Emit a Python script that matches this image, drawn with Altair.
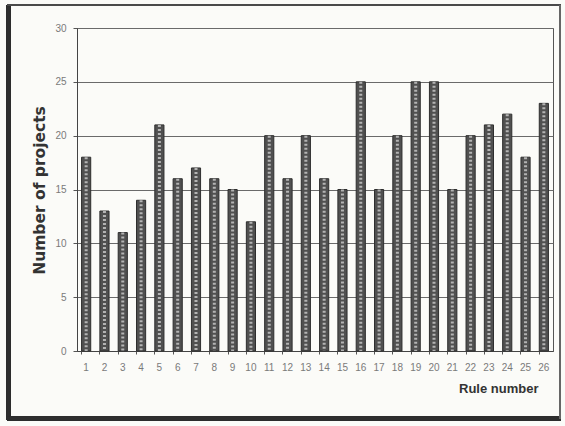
import altair as alt
import pandas as pd

# Number of projects that applied each rule
rules = [str(i) for i in range(1, 27)]
projects = [18, 13, 11, 14, 21, 16, 17, 16, 15, 12, 20, 16, 20,
            16, 15, 25, 15, 20, 25, 25, 15, 20, 21, 22, 18, 23]
y_ticks = [0, 5, 10, 15, 20, 25, 30]

df = pd.DataFrame({"rule": rules, "projects": projects})

PLOT_W, PLOT_H = 476, 323
label_font = "Liberation Sans"

x_enc = alt.X(
    "rule:O",
    sort=rules,
    scale=alt.Scale(paddingInner=0.5, paddingOuter=0.25),
    axis=alt.Axis(
        title="Rule number",
        titleFont=label_font,
        titleFontSize=13,
        titleFontWeight="bold",
        titleColor="#333333",
        titleAlign="right",
        titleBaseline="middle",
        titleX=461,
        titleY=37,
        labelAngle=0,
        labelFont=label_font,
        labelFontSize=10,
        labelColor="#7a7a7a",
        labelPadding=8,
        bandPosition=0,
        tickSize=3,
        tickColor="#555555",
        domainColor="#444444",
        grid=False,
    ),
)

y_enc = alt.Y(
    "projects:Q",
    scale=alt.Scale(domain=[0, 30], nice=False),
    axis=alt.Axis(
        title="Number of projects",
        titleFont="DejaVu Sans",
        titleFontSize=15.5,
        titleFontWeight="bold",
        titleColor="#333333",
        titleAngle=-90,
        titleAlign="center",
        titleBaseline="middle",
        titleX=-38,
        titleY=162,
        values=y_ticks,
        labelFont=label_font,
        labelFontSize=10,
        labelColor="#7a7a7a",
        labelPadding=7,
        tickSize=4,
        tickColor="#555555",
        domainColor="#444444",
        gridColor="#6a6a6a",
        gridWidth=1,
    ),
)

bars = alt.Chart(df).mark_bar(
    fill="#505050", stroke="#2e2e2e", strokeWidth=1
).encode(x=x_enc, y=y_enc)

# light dotted texture running up the middle of each bar
texture = alt.Chart(df).mark_rule(
    color="#b4b4b4", strokeWidth=3, strokeDash=[2, 2]
).encode(
    x=alt.X("rule:O", sort=rules),
    y=alt.Y("projects:Q"),
    y2=alt.datum(0),
)

# outer frame around the whole figure
frame = [
    alt.Chart(df).mark_rule(color="#2e2e2e", strokeWidth=3.5).encode(
        x=alt.value(-68.5), y=alt.value(-23), y2=alt.value(392)),
    alt.Chart(df).mark_rule(color="#2e2e2e", strokeWidth=3.5).encode(
        x=alt.value(-70), x2=alt.value(484), y=alt.value(390.5)),
    alt.Chart(df).mark_rule(color="#4a4a4a", strokeWidth=2).encode(
        x=alt.value(-70), x2=alt.value(484), y=alt.value(-23)),
    alt.Chart(df).mark_rule(color="#666666", strokeWidth=2).encode(
        x=alt.value(483), y=alt.value(-23), y2=alt.value(391)),
]

chart = alt.layer(bars, texture, *frame).properties(
    width=PLOT_W,
    height=PLOT_H,
    autosize=alt.AutoSizeParams(type="none"),
    padding={"left": 77, "top": 28, "right": 12, "bottom": 75},
    background="#fbfbf8",
).configure_view(
    stroke="#555555", strokeWidth=1
)

chart.save("out.html", embed_options={"renderer": "svg", "actions": False})
